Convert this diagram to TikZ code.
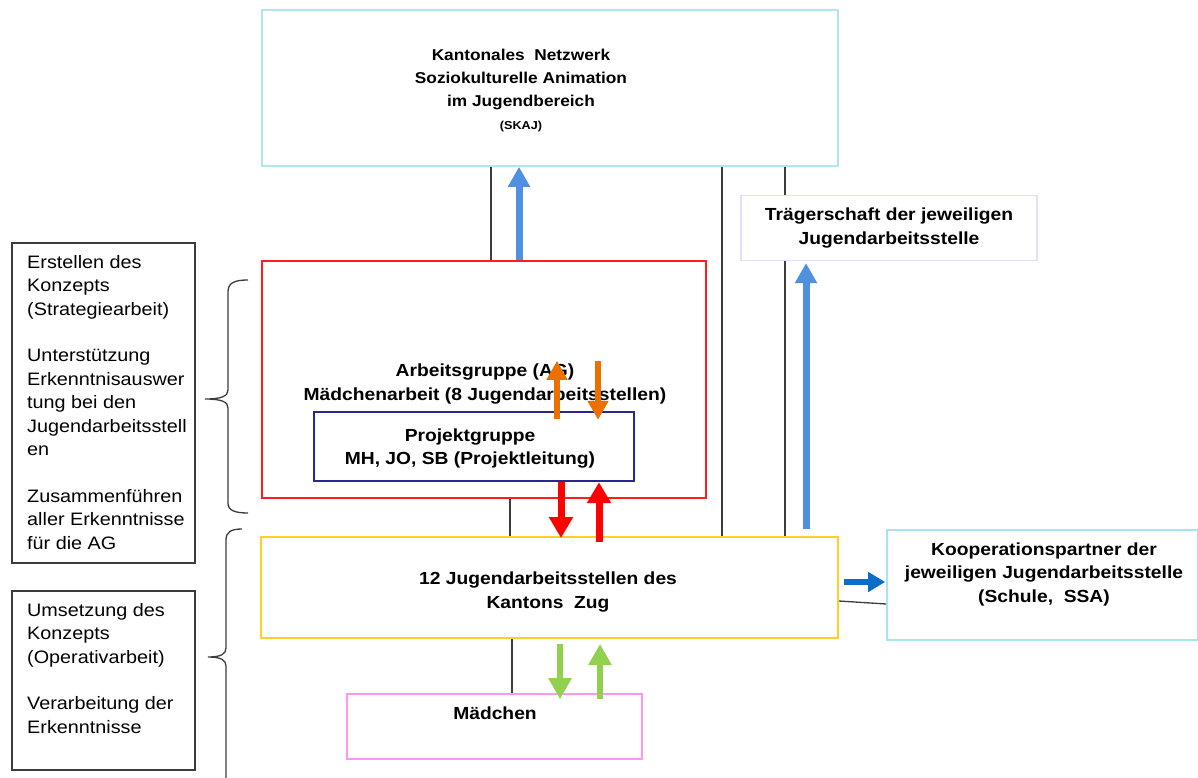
\documentclass[tikz,border=0pt]{standalone}
\usepackage{fontspec}
\setmainfont{Liberation Sans}[FakeStretch=1.1]
\usetikzlibrary{arrows.meta,calc}
\definecolor{skajc}{RGB}{176,230,236}
\definecolor{tragc}{RGB}{228,222,250}
\definecolor{agred}{RGB}{255,30,30}
\definecolor{pgnavy}{RGB}{40,40,140}
\definecolor{yelc}{RGB}{255,208,40}
\definecolor{koopc}{RGB}{168,228,236}
\definecolor{madc}{RGB}{255,150,240}
\definecolor{linec}{RGB}{60,60,60}
\definecolor{bluea}{RGB}{80,144,225}
\definecolor{blued}{RGB}{10,110,200}
\definecolor{orangec}{RGB}{236,112,0}
\definecolor{redc}{RGB}{255,0,0}
\definecolor{greenc}{RGB}{146,208,80}
\begin{document}
\begin{tikzpicture}[x=1pt,y=-1pt,
  box/.style={draw, inner sep=0pt, align=center},
  btext/.style={font=\fontsize{17.5}{23.5}\selectfont\bfseries, align=center, inner sep=0pt},
  ltext/.style={font=\fontsize{18}{23.4}\selectfont, align=left, inner sep=0pt, anchor=north west},
  conn/.style={draw=linec, line width=1.3pt},
  brace/.style={draw=linec, line width=1.3pt},
  fatb/.style={draw=bluea, line width=7pt, -{Triangle[width=21pt,length=20pt]}},
  fatdb/.style={draw=blued, line width=6pt, -{Triangle[width=19pt,length=17pt]}},
  fato/.style={draw=orangec, line width=6pt, -{Triangle[width=20pt,length=19pt]}},
  fatr/.style={draw=redc, line width=7pt, -{Triangle[width=23pt,length=21pt]}},
  fatg/.style={draw=greenc, line width=6pt, -{Triangle[width=22pt,length=21pt]}}
]
\useasboundingbox (0,0) rectangle (1198,778);

% boxes
\node[box, draw=skajc, line width=1.6pt, minimum width=576, minimum height=156] (skaj) at (550,88) {};
\node[btext, font=\fontsize{15.7}{22.8}\selectfont\bfseries] (skajt) at (521,90.5)
  {Kantonales\ \ Netzwerk\\Soziokulturelle Animation\\ im Jugendbereich\\{\fontsize{11.5}{14}\selectfont (SKAJ)}};
\node[box, draw=tragc, line width=1.2pt, minimum width=296, minimum height=65,
  font=\fontsize{17.5}{24}\selectfont\bfseries] (trag) at (889,228)
  {Trägerschaft der jeweiligen\\Jugendarbeitsstelle};
\node[box, draw=agred, line width=2pt, minimum width=444, minimum height=237] (ag) at (484,379.5) {};
\node[btext] (agt) at (485,384) {Arbeitsgruppe (AG)\\Mädchenarbeit (8 Jugendarbeitsstellen)};
\node[box, draw=pgnavy, line width=2.4pt, minimum width=320, minimum height=69] (pg) at (474,446.5) {};
\node[btext, font=\fontsize{17.5}{23}\selectfont\bfseries] (pgt) at (470,448.5)
  {Projektgruppe\\MH, JO, SB (Projektleitung)};
\node[box, draw=yelc, line width=2pt, minimum width=577, minimum height=101] (yel) at (549.5,587.5) {};
\node[btext, font=\fontsize{17.5}{24}\selectfont\bfseries] (yelt) at (548,592.5)
  {12 Jugendarbeitsstellen des\\Kantons\ \ Zug};
\node[box, draw=koopc, line width=1.6pt, minimum width=311, minimum height=110] (koop) at (1042.5,585) {};
\node[btext] (koopt) at (1044,574) {Kooperationspartner der\\jeweiligen Jugendarbeitsstelle\\(Schule,\ \ SSA)};
\node[box, draw=madc, line width=1.6pt, minimum width=295, minimum height=65] (mad) at (494.5,726.5) {};
\node[btext] (madt) at (495,713) {Mädchen};

\node[box, draw=linec, line width=1.8pt, minimum width=183, minimum height=320] (l1) at (103.5,403) {};
\node[ltext] (l1t) at (27,255) {Erstellen des\\Konzepts\\(Strategiearbeit)\\[23.4pt]Unterstützung\\Erkenntnisauswer\\tung bei den\\Jugendarbeitsstell\\en\\[23.4pt]Zusammenführen\\aller Erkenntnisse\\für die AG};
\node[box, draw=linec, line width=1.8pt, minimum width=183, minimum height=179] (l2) at (103.5,680.5) {};
\node[ltext] (l2t) at (27,603) {Umsetzung des\\Konzepts\\(Operativarbeit)\\[23.4pt]Verarbeitung der\\Erkenntnisse};

% braces
\draw[brace] (248,280) .. controls (234,280) and (228,283) .. (228,292) -- (228,390)
  .. controls (228,396) and (222,399) .. (205,399) .. controls (222,399) and (228,402) .. (228,408)
  -- (228,503) .. controls (228,510) and (234,513) .. (248,513);
\draw[brace] (242,529) .. controls (231,529) and (226,532) .. (226,540) -- (226,648)
  .. controls (226,654) and (221,657) .. (208,657) .. controls (221,657) and (226,660) .. (226,666)
  -- (226,778);

% helper coordinates
\foreach \xx in {491,510,512,519,557,560,561,598,599,600,722,785,806}
  {\coordinate (x\xx) at (\xx,0);}
\coordinate (y582) at (0,582);

% thin connectors
\draw[conn] (skaj.south -| x491) -- (ag.north -| x491);
\draw[conn] (skaj.south -| x722) -- (yel.north -| x722);
\draw[conn] (skaj.south -| x785) -- (trag.north -| x785);
\draw[conn] (trag.south -| x785) -- (yel.north -| x785);
\draw[conn] (ag.south -| x510) -- (yel.north -| x510);
\draw[conn] (yel.south -| x512) -- (mad.north -| x512);
\draw[conn] ($(yel.east)+(0,13.5)$) -- ($(koop.west)+(0,19)$);

% fat arrows
\draw[fatb] (ag.north -| x519) -- (skaj.south -| x519);
\draw[fatb, shorten <=7pt, shorten >=2pt] (yel.north -| x806) -- (trag.south -| x806);
\draw[fatdb, shorten <=5pt, shorten >=1pt] (yel.east |- y582) -- (koop.west |- y582);
\draw[fato] ($(pg.north -| x557)+(0,8)$) -- ($(pg.north -| x557)+(0,-50)$);
\draw[fato] ($(pg.north -| x598)+(0,-50)$) -- ($(pg.north -| x598)+(0,9)$);
\draw[fatr] (pg.south -| x561) -- ($(yel.north -| x561)+(0,2)$);
\draw[fatr] ($(yel.north -| x599)+(0,6)$) -- (pg.south -| x599);
\draw[fatg] ($(yel.south -| x560)+(0,5)$) -- ($(mad.north -| x560)+(0,6)$);
\draw[fatg] ($(mad.north -| x600)+(0,6)$) -- ($(yel.south -| x600)+(0,5)$);
\end{tikzpicture}
\end{document}
